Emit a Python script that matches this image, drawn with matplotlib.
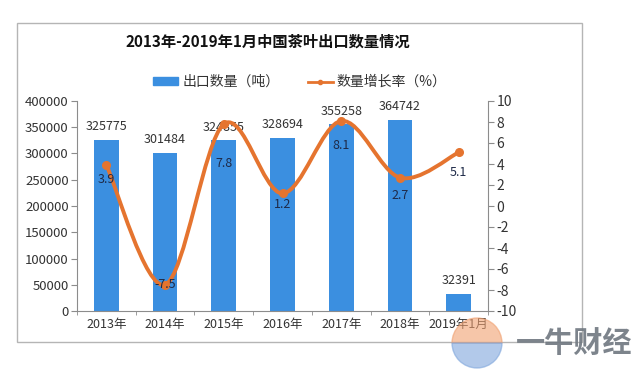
import matplotlib
matplotlib.use("Agg")
import matplotlib.pyplot as plt
from matplotlib.path import Path
from matplotlib.patches import PathPatch, Rectangle, Wedge
from matplotlib.lines import Line2D
import numpy as np

plt.rcParams['font.family'] = ['Noto Sans CJK SC', 'DejaVu Sans']
plt.rcParams['axes.unicode_minus'] = False

# data
years = ["2013年", "2014年", "2015年", "2016年", "2017年", "2018年", "2019年1月"]
export_qty = [325775, 301484, 324855, 328694, 355258, 364742, 32391]
growth = [3.9, -7.5, 7.8, 1.2, 8.1, 2.7, 5.1]

title = "2013年-2019年1月中国茶叶出口数量情况"
bar_name = "出口数量（吨）"
line_name = "数量增长率（%）"

# style
BAR_C = "#3b8fe0"
LINE_C = "#e5742f"
TXT_C = "#333333"
LBL_C = "#1e2a48"
SPINE_C = "#8c8c8c"
# vertical offset (points) of the growth labels below each marker
growth_dy = [-6, 0, -24, -3, -13, -8, -10]

fig = plt.figure(figsize=(6.4, 3.7), dpi=100)
fig.patch.set_facecolor("white")

# outer frame
fig.patches.append(Rectangle((17/640, 1-342/370), 565/640, 319/370,
                             transform=fig.transFigure, fill=False,
                             edgecolor="#b5b5b5", linewidth=1))

ax = fig.add_axes([77/640, 1-311/370, 411/640, 210/370])
ax2 = ax.twinx()

x = np.arange(len(years))
bars = ax.bar(x, export_qty, width=0.42, color=BAR_C, zorder=2)
ax.set_xlim(-0.5, len(years) - 0.5)
ax.set_ylim(0, 400000)
ax.set_yticks(np.arange(0, 400001, 50000))
ax.set_xticks(x)
ax.set_xticklabels(years)
ax.set_xticks(np.arange(-0.5, len(years), 1), minor=True)
ax.tick_params(axis="x", which="major", length=0, pad=5, labelsize=9, colors=TXT_C)
ax.tick_params(axis="x", which="minor", length=3, color=SPINE_C)
ax.tick_params(axis="y", length=4, color=SPINE_C, labelsize=9.5, labelcolor=TXT_C, pad=2)

for b, v in zip(bars, export_qty):
    ax.annotate(str(v), (b.get_x() + b.get_width()/2, v), xytext=(0, 5),
                textcoords="offset points", ha="center", va="bottom",
                fontsize=9, color=TXT_C)

for s in ["top", "right"]:
    ax.spines[s].set_visible(False)
for s in ["left", "bottom"]:
    ax.spines[s].set_color(SPINE_C)

# smooth growth line (Catmull-Rom as cubic Bezier)
pts = np.column_stack([x, growth]).astype(float)
verts = [tuple(pts[0])]
codes = [Path.MOVETO]
n = len(pts)
for i in range(n - 1):
    p0 = pts[i - 1] if i > 0 else pts[i]
    p1 = pts[i]
    p2 = pts[i + 1]
    p3 = pts[i + 2] if i + 2 < n else pts[i + 1]
    c1 = p1 + (p2 - p0) / 6
    c2 = p2 - (p3 - p1) / 6
    verts += [tuple(c1), tuple(c2), tuple(p2)]
    codes += [Path.CURVE4] * 3
ax2.add_patch(PathPatch(Path(verts, codes), fill=False, edgecolor=LINE_C,
                        linewidth=2.8, zorder=3, capstyle="round"))
ax2.plot(x, growth, linestyle="none", marker="o", markersize=5.5,
         color=LINE_C, zorder=4)
for xi, v, dy in zip(x, growth, growth_dy):
    ax2.annotate(f"{v}", (xi, v), xytext=(0, dy), textcoords="offset points",
                 ha="center", va="top" if dy < 0 else "center",
                 fontsize=9, color=LBL_C, zorder=5)

ax2.set_ylim(-10, 10)
ax2.set_yticks(np.arange(-10, 11, 2))
ax2.tick_params(axis="y", length=4, color=SPINE_C, labelsize=10, labelcolor=TXT_C, pad=2)
for s in ["top", "left", "bottom"]:
    ax2.spines[s].set_visible(False)
ax2.spines["right"].set_color(SPINE_C)

# title and legend
fig.text(268/640, 1-42/370, title, ha="center", va="center",
         fontsize=11, fontweight="bold", color="#111111")
handles = [Rectangle((0, 0), 1, 1, color=BAR_C),
           Line2D([0], [0], color=LINE_C, linewidth=2, marker="o", markersize=3)]
fig.legend(handles, [bar_name, line_name], loc="center", ncol=2,
           bbox_to_anchor=(300/640, 1-82/370), frameon=False, fontsize=10,
           handlelength=1.8, handleheight=0.5, columnspacing=2.0, handletextpad=0.3,
           labelcolor=TXT_C)

# logo at bottom right (circle in inch units so it stays round)
logo_c = (4.77, 0.27)
fig.patches.append(Wedge(logo_c, 0.25, 0, 180, transform=fig.dpi_scale_trans,
                         color="#f0a070", alpha=0.6, zorder=6))
fig.patches.append(Wedge(logo_c, 0.25, 180, 360, transform=fig.dpi_scale_trans,
                         color="#7fa6dc", alpha=0.6, zorder=6))
fig.text(574/640, 1-343/370, "一牛财经", ha="center", va="center",
         fontsize=21, fontweight="bold", color="#6f7780", alpha=0.9, zorder=7)

fig.savefig("out.png", dpi=100, facecolor="white")
